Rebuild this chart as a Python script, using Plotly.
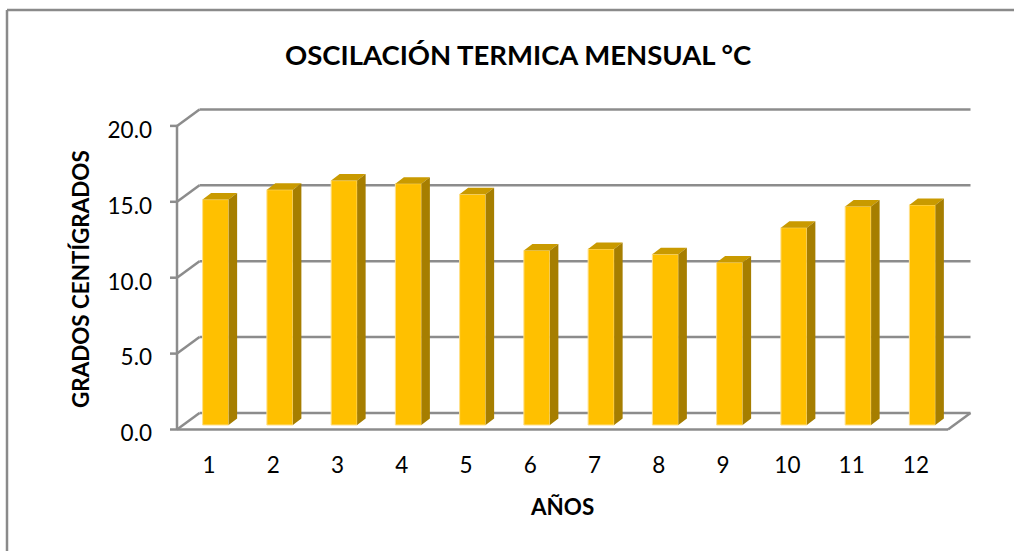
import plotly.graph_objects as go

meses = [1, 2, 3, 4, 5, 6, 7, 8, 9, 10, 11, 12]
oscilacion = [14.85, 15.5, 16.1, 15.9, 15.2, 11.5, 11.6, 11.25, 10.7, 13.0, 14.4, 14.5]
y_ticks = [0, 5, 10, 15, 20]
y_labels = ["0.0", "5.0", "10.0", "15.0", "20.0"]

W, H = 1014, 551
# plot area in pixels, a bit larger than the 3d box so nothing clips
L, R, T, B = 165, 975, 105, 435
X0_PX, Y0_PX = 177, 429.5     # where x=0.5, y=0 land
UX, UY = 64.25, 15.18         # pixels per category / per unit

# oblique depth of the walls and of the bars, in axis units
WALL_DX, WALL_DY = 22.5 / UX, 16.5 / UY
BAR_DX, BAR_DY = 8.5 / UX, 6.5 / UY
BAR_SHIFT, BAR_BASE = 6.5 / UX, 4.5 / UY
BAR_W = 26 / UX
TICK = 7 / UX

GRIS = "#8c8c8c"
x_left, x_right = 0.5, 12.5


def px_x(p):
    return (p - L) / (R - L)


def px_y(p):
    return (B - p) / (B - T)


fig = go.Figure()

bar_x = [m + BAR_SHIFT for m in meses]
fig.add_trace(go.Bar(
    x=bar_x, y=oscilacion, base=BAR_BASE, width=BAR_W,
    marker=dict(color="#FFC000", line=dict(color="#FFE08A", width=1)),
    showlegend=False, hoverinfo="y",
))

# top and side faces of each column
top_x, top_y, side_x, side_y = [], [], [], []
for x, v in zip(bar_x, oscilacion):
    a, b = x - BAR_W / 2, x + BAR_W / 2
    t = BAR_BASE + v
    top_x += [a, a + BAR_DX, b + BAR_DX, b, a, None]
    top_y += [t, t + BAR_DY, t + BAR_DY, t, t, None]
    side_x += [b, b + BAR_DX, b + BAR_DX, b, b, None]
    side_y += [t, t + BAR_DY, BAR_BASE + BAR_DY, BAR_BASE, t, None]
fig.add_trace(go.Scatter(x=top_x, y=top_y, mode="lines", fill="toself", fillcolor="#C99A00",
                         line=dict(width=0), showlegend=False, hoverinfo="skip"))
fig.add_trace(go.Scatter(x=side_x, y=side_y, mode="lines", fill="toself", fillcolor="#A67E00",
                         line=dict(width=0), showlegend=False, hoverinfo="skip"))

# walls: tick, diagonal and back line for each gridline
shapes = []


def seg(x0, y0, x1, y1):
    shapes.append(dict(type="line", xref="x", yref="y", x0=x0, y0=y0, x1=x1, y1=y1,
                       layer="below", line=dict(color=GRIS, width=2.5)))


for t in y_ticks:
    seg(x_left - TICK, t, x_left, t)
    seg(x_left, t, x_left + WALL_DX, t + WALL_DY)
    seg(x_left + WALL_DX, t + WALL_DY, x_right + WALL_DX, t + WALL_DY)
seg(x_left, 0, x_left, y_ticks[-1])
seg(x_left, 0, x_right, 0)
seg(x_right, 0, x_right + WALL_DX, WALL_DY)

# chart frame, only left and top are visible in the picture
marco = dict(color="#8a8a8a", width=2.5)
shapes.append(dict(type="line", xref="paper", yref="paper", x0=px_x(7), x1=px_x(7),
                   y0=px_y(10), y1=px_y(H), line=marco))
shapes.append(dict(type="line", xref="paper", yref="paper", x0=px_x(7), x1=px_x(W),
                   y0=px_y(10), y1=px_y(10), line=marco))

fuente = "Lato, Carlito, Calibri, sans-serif"
fig.update_layout(
    width=W, height=H,
    margin=dict(l=L, r=W - R, t=T, b=H - B, pad=0),
    paper_bgcolor="white", plot_bgcolor="rgba(0,0,0,0)",
    font=dict(family=fuente, size=22.5, color="black"),
    showlegend=False,
    shapes=shapes,
    xaxis=dict(
        range=[x_left + (L - X0_PX) / UX, x_left + (R - X0_PX) / UX],
        tickmode="array", tickvals=meses, ticktext=[str(m) for m in meses],
        showgrid=False, zeroline=False, showline=False, ticks="",
        ticklabelstandoff=14,
    ),
    yaxis=dict(
        range=[(Y0_PX - B) / UY, (Y0_PX - T) / UY],
        tickmode="array", tickvals=y_ticks, ticktext=y_labels,
        showgrid=False, zeroline=False, showline=False, ticks="",
        ticklabelstandoff=12, ticklabelshift=4,
    ),
    annotations=[
        dict(text="<b>OSCILACIÓN TERMICA MENSUAL °C</b>", xref="paper", yref="paper",
             x=px_x(518), y=px_y(55), xanchor="center", yanchor="middle",
             showarrow=False, font=dict(size=27.5)),
        dict(text="<b>AÑOS</b>", xref="paper", yref="paper",
             x=px_x(562), y=px_y(506), xanchor="center", yanchor="middle",
             showarrow=False, font=dict(size=22.4)),
        dict(text="<b>GRADOS CENTÍGRADOS</b>", xref="paper", yref="paper",
             x=px_x(80), y=px_y(279), xanchor="center", yanchor="middle",
             showarrow=False, textangle=-90, font=dict(size=22.4)),
    ],
)

fig.write_html("out.html", config=dict(displayModeBar=False),
               post_script="document.body.style.margin='0';")
